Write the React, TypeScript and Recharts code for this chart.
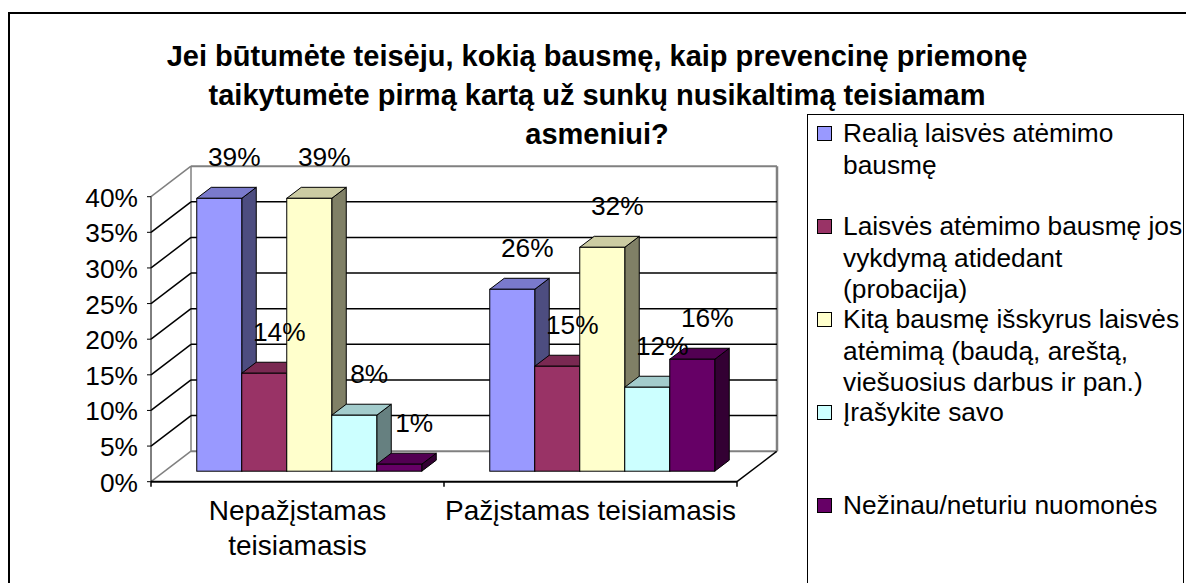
import React from "react";
import { BarChart, Bar, XAxis, YAxis, CartesianGrid, LabelList } from "recharts";

const categories = ["Nepažįstamas teisiamasis", "Pažįstamas teisiamasis"];

const seriesNames = [
  "Realią laisvės atėmimo bausmę",
  "Laisvės atėmimo bausmę jos vykdymą atidedant (probacija)",
  "Kitą bausmę išskyrus laisvės atėmimą (baudą, areštą, viešuosius darbus ir pan.)",
  "Įrašykite savo",
  "Nežinau/neturiu nuomonės",
];

const realia = [39, 26];
const probacija = [14, 15];
const kita = [39, 32];
const savo = [8, 12];
const nezinau = [1, 16];
const seriesValues = [realia, probacija, kita, savo, nezinau];

const seriesColors = ["#9999FF", "#993366", "#FFFFCC", "#CCFFFF", "#660066"];
const yTicks = [0, 5, 10, 15, 20, 25, 30, 35, 40];

const titleLines = [
  "Jei būtumėte teisėju, kokią bausmę, kaip prevencinę priemonę",
  "taikytumėte pirmą kartą už sunkų nusikaltimą teisiamam",
  "asmeniui?",
];

const data = categories.map((name, i) => {
  const row: Record<string, string | number> = { name };
  seriesValues.forEach((vals, s) => {
    row[`s${s}`] = vals[i];
  });
  return row;
});

// layout
const W = 1186;
const H = 583;
const PLOT_LEFT = 151;
const PLOT_RIGHT = 737;
const PLOT_TOP = 196.7;
const PLOT_BOTTOM = 481.7;
const Y_AXIS_W = 60;
const X_AXIS_H = 60;
const BAND = (PLOT_RIGHT - PLOT_LEFT) / categories.length;

// fake 3d
const WALL_DX = 40;
const WALL_DY = -30.5;
const BAR_DX = 12.5;
const BAR_DY = -10.5;
const DEPTH_DX = 14.5;
const DEPTH_DY = -11;
const PERSPECTIVE = 0.982;

const GRAY = "#808080";
const FONT = "'Liberation Sans', Arial, sans-serif";
const TEXT_SIZE = 26.3;
const CAT_SIZE = 28;

const shade = (hex: string, k: number) => {
  const n = parseInt(hex.slice(1), 16);
  const r = Math.round(((n >> 16) & 255) * k);
  const g = Math.round(((n >> 8) & 255) * k);
  const b = Math.round((n & 255) * k);
  return `rgb(${r},${g},${b})`;
};

const pts = (arr: number[][]) => arr.map((p) => p.join(",")).join(" ");

let measureCtx: CanvasRenderingContext2D | null = null;
const wrapWords = (text: string, fontSize: number, maxW: number) => {
  if (!measureCtx && typeof document !== "undefined") {
    measureCtx = document.createElement("canvas").getContext("2d");
  }
  if (!measureCtx) return [text];
  measureCtx.font = `${fontSize}px ${FONT}`;
  const lines: string[] = [];
  let cur = "";
  text.split(" ").forEach((w) => {
    const next = cur ? `${cur} ${w}` : w;
    if (cur && measureCtx!.measureText(next).width > maxW) {
      lines.push(cur);
      cur = w;
    } else {
      cur = next;
    }
  });
  if (cur) lines.push(cur);
  return lines;
};

const makeBox = (color: string) => (props: any) => {
  const x = Number(props.x);
  const y = Number(props.y);
  const width = Number(props.width);
  const height = Number(props.height);
  if (!isFinite(x) || !isFinite(y)) return <g />;
  const bottom = y + height + BAR_DY;
  const h = height * PERSPECTIVE;
  const left = x + BAR_DX;
  const right = left + width;
  const top = bottom - h;
  return (
    <g>
      <polygon
        points={pts([[right, top], [right + DEPTH_DX, top + DEPTH_DY], [right + DEPTH_DX, bottom + DEPTH_DY], [right, bottom]])}
        fill={shade(color, 0.5)}
        stroke="#000"
        strokeWidth={1}
        strokeLinejoin="round"
      />
      <polygon
        points={pts([[left, top], [left + DEPTH_DX, top + DEPTH_DY], [right + DEPTH_DX, top + DEPTH_DY], [right, top]])}
        fill={shade(color, 0.8)}
        stroke="#000"
        strokeWidth={1}
        strokeLinejoin="round"
      />
      <rect x={left} y={top} width={width} height={h} fill={color} stroke="#000" strokeWidth={1} />
    </g>
  );
};

const renderLabel = (props: any) => {
  const vb = props.viewBox && props.viewBox.width != null ? props.viewBox : props;
  const x = Number(vb.x);
  const y = Number(vb.y);
  const width = Number(vb.width);
  const height = Number(vb.height);
  const bottom = y + height + BAR_DY;
  const top = bottom - height * PERSPECTIVE;
  return (
    <text
      x={x + BAR_DX + width / 2 + 15}
      y={top - 41}
      textAnchor="middle"
      dominantBaseline="central"
      fontSize={TEXT_SIZE}
      fontFamily={FONT}
      fill="#000"
    >
      {`${props.value}%`}
    </text>
  );
};

const gridLine = (props: any) => {
  const { x1, x2, y1, index } = props;
  const isTop = Math.abs(y1 - PLOT_TOP) < 1;
  const isFloor = Math.abs(y1 - PLOT_BOTTOM) < 1;
  const edge = isTop || isFloor;
  const c = edge ? GRAY : "#000";
  const bx1 = x1 + WALL_DX;
  const bx2 = x2 + WALL_DX;
  const by = y1 + WALL_DY;
  return (
    <g key={`grid-${index}`}>
      <line x1={x1} y1={y1} x2={bx1} y2={by} stroke={c} strokeWidth={1.5} />
      <line x1={bx1} y1={by} x2={bx2} y2={by} stroke={c} strokeWidth={edge ? 2 : 1.5} />
      {isFloor && (
        <>
          <line x1={x2} y1={y1} x2={bx2} y2={by} stroke="#000" strokeWidth={1.5} />
          <line x1={bx1} y1={PLOT_TOP + WALL_DY} x2={bx1} y2={by} stroke={GRAY} strokeWidth={1.5} />
          <line x1={bx2} y1={PLOT_TOP + WALL_DY} x2={bx2} y2={by} stroke={GRAY} strokeWidth={2.5} />
        </>
      )}
    </g>
  );
};

const CategoryTick = (props: any) => {
  const { x, payload, index } = props;
  const half = BAND / 2;
  const lines = wrapWords(String(payload.value), CAT_SIZE, BAND + 4);
  return (
    <g>
      <line x1={x - half} y1={PLOT_BOTTOM} x2={x - half} y2={PLOT_BOTTOM + 5} stroke="#000" strokeWidth={1.5} />
      {index === categories.length - 1 && (
        <line x1={x + half} y1={PLOT_BOTTOM} x2={x + half} y2={PLOT_BOTTOM + 5} stroke="#000" strokeWidth={1.5} />
      )}
      <text x={x} y={PLOT_BOTTOM + 38.5} textAnchor="middle" fontSize={CAT_SIZE} fontFamily={FONT} fill="#000">
        {lines.map((l, i) => (
          <tspan key={l} x={x} dy={i === 0 ? 0 : 35}>
            {l}
          </tspan>
        ))}
      </text>
    </g>
  );
};

const ValueTick = (props: any) => {
  const { x, y, payload } = props;
  return (
    <text x={x} y={y + 1} textAnchor="end" dominantBaseline="central" fontSize={TEXT_SIZE} fontFamily={FONT} fill="#000">
      {`${payload.value}%`}
    </text>
  );
};

function Legend3D() {
  return (
    <div
      style={{
        position: "absolute",
        left: 807,
        top: 114,
        width: 375,
        height: 520,
        border: "1.5px solid #000",
        background: "#fff",
      }}
    >
      {seriesNames.map((name, i) => (
        <div key={name} style={{ position: "absolute", left: 0, top: 2.8 + 93 * i }}>
          <div
            style={{
              position: "absolute",
              left: 9,
              top: 8,
              width: 15,
              height: 15,
              boxSizing: "border-box",
              background: seriesColors[i],
              border: "1.5px solid #000",
            }}
          />
          <div
            style={{
              position: "absolute",
              left: 35,
              top: 0,
              width: 346,
              fontSize: TEXT_SIZE,
              lineHeight: "31.7px",
              color: "#000",
            }}
          >
            {name}
          </div>
        </div>
      ))}
    </div>
  );
}

export default function App() {
  return (
    <div
      style={{
        position: "fixed",
        left: 0,
        top: 0,
        width: W,
        height: H,
        background: "#fff",
        overflow: "hidden",
        fontFamily: FONT,
      }}
    >
      <div
        style={{
          position: "absolute",
          left: 8,
          top: 12,
          width: 1300,
          height: 700,
          borderTop: "2px solid #000",
          borderLeft: "2px solid #000",
        }}
      />
      <div
        style={{
          position: "absolute",
          left: 97,
          top: 37,
          width: 1000,
          textAlign: "center",
          fontWeight: "bold",
          fontSize: 29,
          lineHeight: "39px",
          color: "#000",
          whiteSpace: "nowrap",
        }}
      >
        {titleLines.map((l) => (
          <div key={l}>{l}</div>
        ))}
      </div>
      <div style={{ position: "absolute", left: 0, top: 0 }}>
        <BarChart
          width={W}
          height={H}
          data={data}
          barCategoryGap="11.35%"
          barGap={0}
          margin={{
            top: PLOT_TOP,
            right: W - PLOT_RIGHT,
            bottom: H - PLOT_BOTTOM - X_AXIS_H,
            left: PLOT_LEFT - Y_AXIS_W,
          }}
        >
          <CartesianGrid vertical={false} horizontal={gridLine} />
          <XAxis
            dataKey="name"
            height={X_AXIS_H}
            interval={0}
            axisLine={{ stroke: "#000", strokeWidth: 2 }}
            tickLine={false}
            tick={<CategoryTick />}
          />
          <YAxis
            width={Y_AXIS_W}
            domain={[0, 40]}
            ticks={yTicks}
            interval={0}
            tickSize={4}
            tickMargin={9}
            axisLine={{ stroke: "#000", strokeWidth: 1 }}
            tickLine={{ stroke: "#000", strokeWidth: 1 }}
            tick={<ValueTick />}
          />
          {seriesNames.map((name, s) => (
            <Bar
              key={name}
              dataKey={`s${s}`}
              name={name}
              fill={seriesColors[s]}
              shape={makeBox(seriesColors[s])}
              isAnimationActive={false}
            >
              <LabelList dataKey={`s${s}`} content={renderLabel} />
            </Bar>
          ))}
        </BarChart>
      </div>
      <Legend3D />
    </div>
  );
}
